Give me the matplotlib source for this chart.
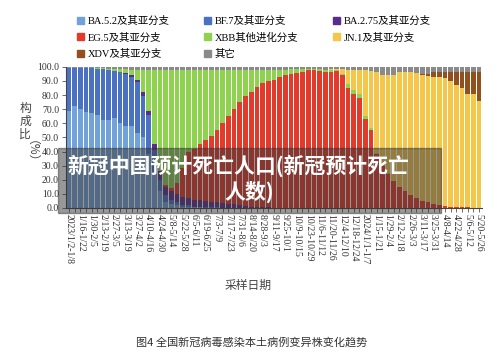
import numpy as np
import matplotlib.pyplot as plt
from matplotlib.patches import Patch, Rectangle

# weekly share (%) of each variant, 2023/1/2 .. 2024/5/20 (73 weeks)
ba52 = [69, 72, 70, 68, 67, 66, 62, 62, 64, 60,
        58, 58, 53, 50, 38, 25, 12, 4, 3, 2,
        1, 1, 0.5, 0.5, 0.3, 0.2, 0.2, 0.1, 0.1, 0,
        0, 0, 0, 0, 0, 0, 0, 0, 0, 0,
        0, 0, 0, 0, 0, 0, 0, 0, 0, 0,
        0, 0, 0, 0, 0, 0, 0, 0, 0, 0,
        0, 0, 0, 0, 0, 0, 0, 0, 0, 0,
        0, 0, 0]
bf7 = [30, 27, 29, 31, 32, 32.5, 36.5, 35.5, 33, 36,
       37, 35, 36, 29, 28, 16, 8, 5, 3, 2,
       1, 1, 0.5, 0.5, 0.3, 0.2, 0.2, 0.1, 0.1, 0,
       0, 0, 0, 0, 0, 0, 0, 0, 0, 0,
       0, 0, 0, 0, 0, 0, 0, 0, 0, 0,
       0, 0, 0, 0, 0, 0, 0, 0, 0, 0,
       0, 0, 0, 0, 0, 0, 0, 0, 0, 0,
       0, 0, 0]
ba275 = [0, 0, 0, 0, 0, 0, 0, 0, 0, 0.5,
         0.5, 1, 2, 3, 3, 4, 6, 6, 6, 6,
         6, 5, 5, 4.5, 4.4, 4, 3.6, 3.3, 2.8, 2.5,
         2, 1.5, 1, 1, 0.5, 0.5, 0.3, 0.3, 0.2, 0,
         0, 0, 0, 0, 0, 0, 0, 0, 0, 0,
         0, 0, 0, 0, 0, 0, 0, 0, 0, 0,
         0, 0, 0, 0, 0, 0, 0, 0, 0, 0,
         0, 0, 0]
eg5 = [0, 0, 0, 0, 0, 0, 0, 0, 0, 0,
       0, 0, 0, 0, 0, 0, 0, 1, 2, 8,
       20, 33, 36, 39.5, 43, 46.6, 51, 56.5, 62, 67.5,
       73, 77.5, 81, 85, 88, 89.5, 90.7, 92.7, 94.3, 95,
       95.5, 96.5, 97.5, 97.5, 97, 96, 96.5, 97, 94, 85,
       81, 78, 63, 55, 38, 30, 24, 19, 15, 12,
       9, 7, 5, 4, 3, 2, 1.5, 1, 1, 0.5,
       0.5, 0.3, 0.3]
xbb = [0, 0, 0, 0, 0, 0.5, 0.5, 1, 1.5, 2,
       3, 4, 7, 16, 29, 53, 72, 82, 84, 80,
       70, 58, 56, 53, 50, 47, 43, 38, 33, 28,
       23, 19, 16, 12, 9.5, 8, 7, 5, 3.5, 3.5,
       3, 2, 1, 1, 1.5, 2, 1.5, 0.5, 1, 3,
       2.5, 2.5, 2.5, 2, 1, 0.5, 0.5, 0.3, 0.2, 0,
       0, 0, 0, 0, 0, 0, 0, 0, 0, 0,
       0, 0, 0]
jn1 = [0, 0, 0, 0, 0, 0, 0, 0, 0, 0,
       0, 0, 0, 0, 0, 0, 0, 0, 0, 0,
       0, 0, 0, 0, 0, 0, 0, 0, 0, 0,
       0, 0, 0, 0, 0, 0, 0, 0, 0, 0,
       0, 0, 0, 0, 0, 0, 0.5, 1, 3.5, 10,
       14, 17, 32, 40, 57, 64, 70, 75.2, 80.8, 84,
       87, 88.5, 89.5, 89.5, 90, 90.5, 90.5, 89, 86, 84.5,
       80.5, 80.7, 75.2]
xdv = [0, 0, 0, 0, 0, 0, 0, 0, 0, 0,
       0, 0, 0, 0, 0, 0, 0, 0, 0, 0,
       0, 0, 0, 0, 0, 0, 0, 0, 0, 0,
       0, 0, 0, 0, 0, 0, 0, 0, 0, 0,
       0, 0, 0, 0, 0, 0, 0, 0, 0, 0,
       0, 0, 0, 0, 0, 0, 0, 0, 0, 0,
       0, 0, 0.5, 1.5, 3, 3.5, 4, 6, 9, 11.5,
       15.5, 15.5, 21]
other = [1, 1, 1, 1, 1, 1, 1, 1.5, 1.5, 1.5,
         1.5, 2, 2, 2, 2, 2, 2, 2, 2, 2,
         2, 2, 2, 2, 2, 2, 2, 2, 2, 2,
         2, 2, 2, 2, 2, 2, 2, 2, 2, 1.5,
         1.5, 1.5, 1.5, 1.5, 1.5, 2, 1.5, 1.5, 1.5, 2,
         2.5, 2.5, 2.5, 3, 4, 5.5, 5.5, 5.5, 4, 4,
         4, 4.5, 5, 5, 4, 4, 4, 4, 4, 3.5,
         3.5, 3.5, 3.5]

week_labels = ["2023/1/2-1/8", "1/16-1/22", "1/30-2/5", "2/13-2/19", "2/27-3/5",
               "3/13-3/19", "3/27-4/2", "4/10-4/16", "4/24-4/30", "5/8-5/14",
               "5/22-5/28", "6/5-6/11", "6/19-6/25", "7/3-7/9", "7/17-7/23",
               "7/31-8/6", "8/14-8/20", "8/28-9/3", "9/11-9/17", "9/25-10/1",
               "10/9-10/15", "10/23-10/29", "11/6-11/12", "11/20-11/26",
               "12/4-12/10", "12/18-12/24", "2024/1/1-1/7", "1/15-1/21",
               "1/29-2/4", "2/12-2/18", "2/26-3/3", "3/11-3/17", "3/25-3/31",
               "4/8-4/14", "4/22-4/28", "5/6-5/12", "5/20-5/26"]

names = ["BA.5.2及其亚分支", "BF.7及其亚分支", "BA.2.75及其亚分支", "EG.5及其亚分支",
         "XBB其他进化分支", "JN.1及其亚分支", "XDV及其亚分支", "其它"]
series = [ba52, bf7, ba275, eg5, xbb, jn1, xdv, other]
colors = ["#72a2da", "#4b71c3", "#5a2d8c", "#e23a2b",
          "#8fd24f", "#f4c64a", "#93501f", "#8a8a8a"]

serif = ["Liberation Serif", "Noto Sans CJK SC"]
cjk = ["Noto Sans CJK SC", "DejaVu Sans"]
plt.rcParams["font.family"] = serif

fig = plt.figure(figsize=(5, 3.63), dpi=100)
ax = fig.add_axes([0.132, 0.427, 0.832, 0.389])

x = np.arange(len(ba52))
bottom = np.zeros(len(x))
for vals, name, col in zip(series, names, colors):
    ax.bar(x, vals, bottom=bottom, width=0.82, color=col, label=name, linewidth=0)
    bottom += np.array(vals)

ax.set_xlim(-0.5, len(x) - 0.5)
ax.set_ylim(0, 100)
ax.set_yticks(np.arange(0, 101, 10))
ax.set_yticklabels(["%.1f" % v for v in np.arange(0, 101, 10)], fontsize=7, color="#333333")
ax.set_xticks(x[::2])
ax.set_xticklabels(week_labels, rotation=270, fontsize=7, color="#333333")
ax.set_xticks(x, minor=True)
ax.tick_params(axis="x", which="both", length=3, width=0.6, color="#555555", pad=1.5)
ax.tick_params(axis="y", length=3, width=0.6, color="#555555", pad=2)
for s in ["top", "right"]:
    ax.spines[s].set_visible(False)
for s in ["left", "bottom"]:
    ax.spines[s].set_color("#444444")
    ax.spines[s].set_linewidth(0.8)

# y label: stacked characters plus rotated (%)
fig.text(0.05, 0.665, "构\n成\n比", fontsize=8.5, family=cjk, color="#444444",
         ha="center", va="center", linespacing=1.0)
fig.text(0.05, 0.567, "（%）", fontsize=8.5, family=cjk, color="#444444",
         ha="center", va="center", rotation=270)

fig.text(0.496, 0.215, "采样日期", fontsize=8.5, family=cjk, color="#444444",
         ha="center", va="center")
fig.text(0.504, 0.058, "图4 全国新冠病毒感染本土病例变异株变化趋势", fontsize=8,
         family=cjk, color="#333333", ha="center", va="center")

# legend, filled row by row
handles = [Patch(color=c) for c in colors]
order = [0, 3, 6, 1, 4, 7, 2, 5]
fig.legend([handles[i] for i in order], [names[i] for i in order],
           loc="upper left", bbox_to_anchor=(0.135, 0.982), ncol=3,
           frameon=False, fontsize=7.5, handlelength=0.65, handleheight=0.65,
           handletextpad=0.4, columnspacing=3.3, labelspacing=0.6)

# dark caption banner laid over the plot
fig.patches.append(Rectangle((0.116, 0.413), 0.766, 0.179, transform=fig.transFigure,
                             color="#333333", alpha=0.5, zorder=5))
fig.text(0.477, 0.543, "新冠中国预计死亡人口(新冠预计死亡", fontsize=15, family=cjk,
         weight="bold", color="white", ha="center", va="center", zorder=6)
fig.text(0.498, 0.472, "人数)", fontsize=15, family=cjk, weight="bold",
         color="white", ha="center", va="center", zorder=6)

fig.savefig("out.png", dpi=100)
